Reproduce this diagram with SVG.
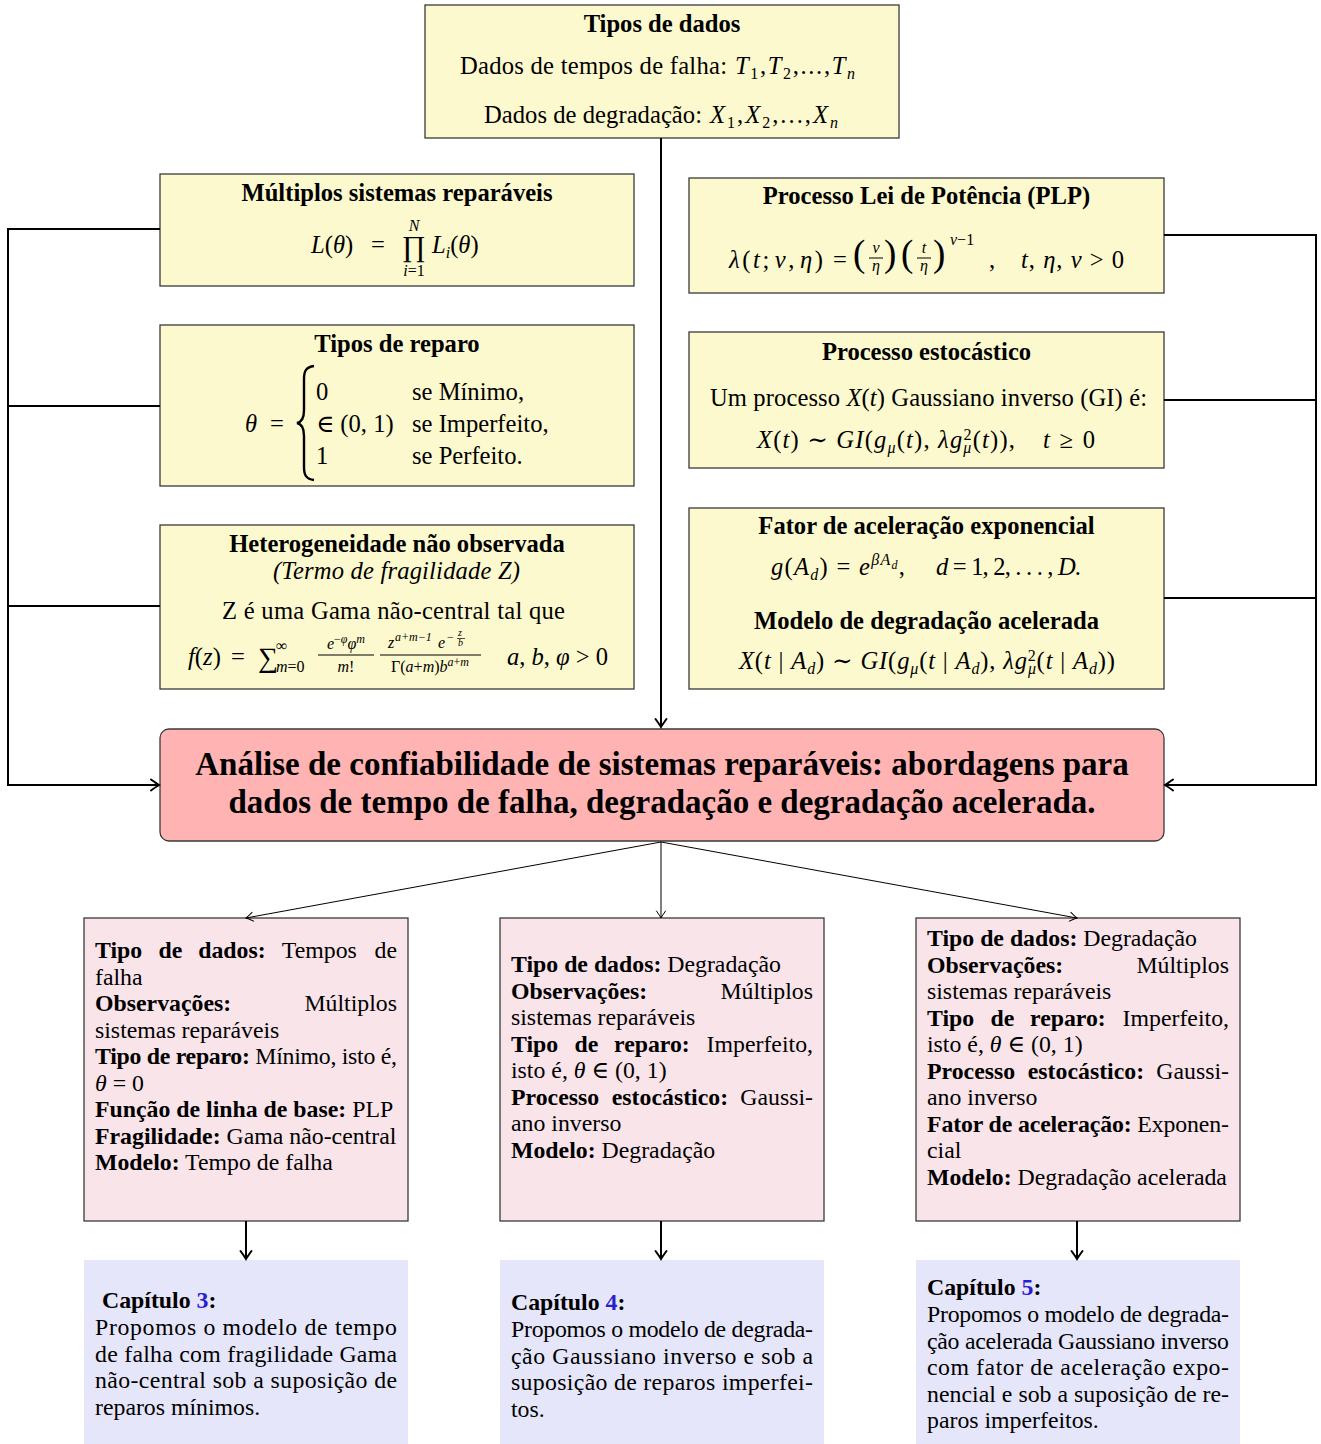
<svg xmlns="http://www.w3.org/2000/svg" width="1321" height="1444" viewBox="0 0 1321 1444">
<defs>
<style>
.tx{font-family:"Liberation Serif","DejaVu Serif",serif;font-size:24px;fill:#000}
.yb{font-size:24.6px}
.bx{font-size:23.8px}
.big{font-size:33px;font-weight:bold}
.bd{font-weight:bold}
.it{font-style:italic}
.sm{font-size:16px}
.xs{font-size:12px}
.s10{font-size:10px}
.s28{font-size:28px}
.s29{font-size:29px}
.s37{font-size:37px}
.c{text-anchor:middle}
.e{text-anchor:end}
.ylw{fill:#FDF9CE;stroke:#3a3a3a;stroke-width:1.3}
.red{fill:#FFB3B3;stroke:#3a3a3a;stroke-width:1.3}
.pnk{fill:#F9E4EA;stroke:#3a3a3a;stroke-width:1.3}
.lav{fill:#E6E6FA;stroke:none}
.thick{stroke:#000;stroke-width:2;fill:none}
.thin{stroke:#000;stroke-width:1;fill:none}
.rule{stroke:#000;stroke-width:1}
.blue{fill:#2a1fd0}
</style>
<marker id="arrT" markerUnits="userSpaceOnUse" viewBox="-10 -8 12 16" markerWidth="12" markerHeight="16" refX="0" refY="0" orient="auto" overflow="visible"><path d="M-8,-5.5 Q-2.5,-1.5 0,0 Q-2.5,1.5 -8,5.5" fill="none" stroke="#000" stroke-width="2" stroke-linecap="round"/></marker>
<marker id="arrS" markerUnits="userSpaceOnUse" viewBox="-10 -8 12 16" markerWidth="12" markerHeight="16" refX="0" refY="0" orient="auto" overflow="visible"><path d="M-7,-4.5 Q-2,-1 0,0 Q-2,1 -7,4.5" fill="none" stroke="#000" stroke-width="1" stroke-linecap="round"/></marker>
</defs>
<rect x="0" y="0" width="1321" height="1444" fill="#fff"/>

<g id="node-tipos-dados">
<rect class="ylw" x="425" y="5" width="474" height="133"/>
<text class="tx yb bd c" x="662" y="32">Tipos de dados</text>
<text class="tx yb" x="460" y="74" textLength="267" lengthAdjust="spacing">Dados de tempos de falha:</text>
<text class="tx yb" x="735" y="74" textLength="120" lengthAdjust="spacing"><tspan class="it">T</tspan><tspan class="sm" dy="5">1</tspan><tspan dy="-5">,</tspan><tspan class="it">T</tspan><tspan class="sm" dy="5">2</tspan><tspan dy="-5">,...,</tspan><tspan class="it">T</tspan><tspan class="sm it" dy="5">n</tspan></text>
<text class="tx yb" x="484" y="123" textLength="218" lengthAdjust="spacing">Dados de degradação:</text>
<text class="tx yb" x="710" y="123" textLength="128" lengthAdjust="spacing"><tspan class="it">X</tspan><tspan class="sm" dy="5">1</tspan><tspan dy="-5">,</tspan><tspan class="it">X</tspan><tspan class="sm" dy="5">2</tspan><tspan dy="-5">,...,</tspan><tspan class="it">X</tspan><tspan class="sm it" dy="5">n</tspan></text>
</g>

<g id="node-multiplos">
<rect class="ylw" x="160" y="174" width="474" height="112"/>
<text class="tx yb bd c" x="397" y="201">Múltiplos sistemas reparáveis</text>
<text class="tx yb" y="253"><tspan class="it" x="311">L</tspan><tspan>(</tspan><tspan class="it">θ</tspan><tspan>)</tspan></text>
<text class="tx yb" x="371" y="253">=</text>
<text class="tx s29" x="402" y="256">∏</text>
<text class="tx sm it c" x="414" y="231">N</text>
<text class="tx sm c" x="414" y="276"><tspan class="it">i</tspan>=1</text>
<text class="tx yb" y="253"><tspan class="it" x="432">L</tspan><tspan class="sm it" dy="5">i</tspan><tspan dy="-5">(</tspan><tspan class="it">θ</tspan><tspan>)</tspan></text>
</g>

<g id="node-tipos-reparo">
<rect class="ylw" x="160" y="325" width="474" height="161"/>
<text class="tx yb bd c" x="397" y="352">Tipos de reparo</text>
<text class="tx yb it" x="245" y="432">θ</text>
<text class="tx yb" x="270" y="432">=</text>
<path d="M314,366 C306,367 304,371 304,379 L304,410 C304,418 302,422 297,423 C302,424 304,428 304,436 L304,467 C304,475 306,479 314,480" fill="none" stroke="#000" stroke-width="2.4"/>
<text class="tx yb" x="316" y="400">0</text>
<text class="tx yb" x="316" y="432">∈ (0, 1)</text>
<text class="tx yb" x="316" y="464">1</text>
<text class="tx yb" x="412" y="400">se Mínimo,</text>
<text class="tx yb" x="412" y="432">se Imperfeito,</text>
<text class="tx yb" x="412" y="464">se Perfeito.</text>
</g>

<g id="node-heterogeneidade">
<rect class="ylw" x="160" y="525" width="474" height="164"/>
<text class="tx yb bd c" x="397" y="552">Heterogeneidade não observada</text>
<text class="tx yb it" x="273" y="579" textLength="247" lengthAdjust="spacing">(Termo de fragilidade Z)</text>
<text class="tx yb" x="222" y="619" textLength="343" lengthAdjust="spacing">Z é uma Gama não-central tal que</text>
<text class="tx yb" y="665"><tspan class="it" x="188">f</tspan><tspan>(</tspan><tspan class="it">z</tspan><tspan>)</tspan></text>
<text class="tx yb" x="231" y="665">=</text>
<text class="tx s28" x="258" y="667">∑</text>
<text class="tx sm" x="276" y="651">∞</text>
<text class="tx sm" x="276" y="672"><tspan class="it">m</tspan>=0</text>
<text class="tx sm c" x="346" y="649"><tspan class="it">e</tspan><tspan class="xs" dy="-6">−</tspan><tspan class="xs it">φ</tspan><tspan class="it" dy="6">φ</tspan><tspan class="xs it" dy="-6">m</tspan></text>
<line class="rule" x1="318" y1="655" x2="374" y2="655"/>
<text class="tx sm c" x="346" y="672"><tspan class="it">m</tspan>!</text>
<text class="tx sm it" x="388" y="648">z</text>
<text class="tx xs it" x="395" y="641">a+m−1</text>
<text class="tx sm it" x="438" y="648">e</text>
<text class="tx xs" x="447" y="641">−</text>
<text class="tx s10 it" x="458" y="636">z</text>
<line x1="457" y1="638.5" x2="465" y2="638.5" stroke="#000" stroke-width="0.7"/>
<text class="tx s10 it" x="458" y="646">b</text>
<line class="rule" x1="380" y1="655" x2="481" y2="655"/>
<text class="tx sm c" x="430" y="672">Γ(<tspan class="it">a</tspan>+<tspan class="it">m</tspan>)<tspan class="it">b</tspan><tspan class="xs it" dy="-6">a</tspan><tspan class="xs">+</tspan><tspan class="xs it">m</tspan></text>
<text class="tx yb" x="507" y="665" textLength="101" lengthAdjust="spacing"><tspan class="it">a</tspan>, <tspan class="it">b</tspan>, <tspan class="it">φ</tspan> &gt; 0</text>
</g>

<g id="node-plp">
<rect class="ylw" x="689" y="178" width="475" height="115"/>
<text class="tx yb bd c" x="926.5" y="204">Processo Lei de Potência (PLP)</text>
<text class="tx yb" x="729" y="268" textLength="94" lengthAdjust="spacing"><tspan class="it">λ</tspan><tspan>(</tspan><tspan class="it">t</tspan><tspan>;</tspan><tspan class="it" dx="3">ν</tspan><tspan>,</tspan><tspan class="it" dx="3">η</tspan><tspan>)</tspan></text>
<text class="tx yb" x="833" y="268">=</text>
<text class="tx s37" x="853" y="266">(</text>
<text class="tx sm it c" x="876" y="253">ν</text>
<line class="rule" x1="869" y1="258" x2="883" y2="258"/>
<text class="tx sm it c" x="876" y="271">η</text>
<text class="tx s37" x="884" y="266">)</text>
<text class="tx s37" x="901" y="266">(</text>
<text class="tx sm it c" x="924" y="253">t</text>
<line class="rule" x1="917" y1="258" x2="931" y2="258"/>
<text class="tx sm it c" x="924" y="271">η</text>
<text class="tx s37" x="933" y="266">)</text>
<text class="tx sm" x="950" y="245"><tspan class="it">ν</tspan>−1</text>
<text class="tx yb" x="989" y="268">,</text>
<text class="tx yb" x="1021" y="268" textLength="103" lengthAdjust="spacing"><tspan class="it">t</tspan>, <tspan class="it">η</tspan>, <tspan class="it">ν</tspan> &gt; 0</text>
</g>

<g id="node-estocastico">
<rect class="ylw" x="689" y="332" width="475" height="136"/>
<text class="tx yb bd c" x="926.5" y="360">Processo estocástico</text>
<text class="tx yb" x="710" y="406" textLength="437" lengthAdjust="spacing">Um processo <tspan class="it">X</tspan>(<tspan class="it">t</tspan>) Gaussiano inverso (GI) é:</text>
<text class="tx yb" x="757" y="448" textLength="258" lengthAdjust="spacing"><tspan class="it">X</tspan>(<tspan class="it">t</tspan>) ∼ <tspan class="it">GI</tspan>(<tspan class="it">g</tspan><tspan class="sm it" dy="5">μ</tspan><tspan dy="-5">(</tspan><tspan class="it">t</tspan>), <tspan class="it">λg</tspan><tspan class="sm it" dy="5">μ</tspan><tspan class="sm" dx="-9" dy="-13">2</tspan><tspan dy="8">(</tspan><tspan class="it">t</tspan>)),</text>
<text class="tx yb" x="1043" y="448" textLength="52" lengthAdjust="spacing"><tspan class="it">t</tspan> ≥ 0</text>
</g>

<g id="node-fator">
<rect class="ylw" x="689" y="508" width="475" height="181"/>
<text class="tx yb bd c" x="926.5" y="534">Fator de aceleração exponencial</text>
<text class="tx yb" x="771" y="575" textLength="134" lengthAdjust="spacing"><tspan class="it">g</tspan>(<tspan class="it">A</tspan><tspan class="sm it" dy="5">d</tspan><tspan dy="-5">) = </tspan><tspan class="it">e</tspan><tspan class="sm it" dy="-10">βA</tspan><tspan class="xs it" dy="4">d</tspan><tspan dy="6">,</tspan></text>
<text class="tx yb" x="936" y="575" textLength="145" lengthAdjust="spacing"><tspan class="it">d</tspan> = 1, 2, . . . , <tspan class="it">D</tspan>.</text>
<text class="tx yb bd c" x="926.5" y="629">Modelo de degradação acelerada</text>
<text class="tx yb" x="739" y="669" textLength="376" lengthAdjust="spacing"><tspan class="it">X</tspan>(<tspan class="it">t</tspan> | <tspan class="it">A</tspan><tspan class="sm it" dy="5">d</tspan><tspan dy="-5">) ∼ </tspan><tspan class="it">GI</tspan>(<tspan class="it">g</tspan><tspan class="sm it" dy="5">μ</tspan><tspan dy="-5">(</tspan><tspan class="it">t</tspan> | <tspan class="it">A</tspan><tspan class="sm it" dy="5">d</tspan><tspan dy="-5">), </tspan><tspan class="it">λg</tspan><tspan class="sm it" dy="5">μ</tspan><tspan class="sm" dx="-9" dy="-13">2</tspan><tspan dy="8">(</tspan><tspan class="it">t</tspan> | <tspan class="it">A</tspan><tspan class="sm it" dy="5">d</tspan><tspan dy="-5">))</tspan></text>
</g>

<g id="node-central">
<rect class="red" x="160" y="729" width="1004" height="112" rx="9" ry="9"/>
<text class="tx big c" x="662" y="775">Análise de confiabilidade de sistemas reparáveis: abordagens para</text>
<text class="tx big c" x="662" y="813">dados de tempo de falha, degradação e degradação acelerada.</text>
</g>

<g id="node-resumo-1">
<rect class="pnk" x="84" y="918" width="324" height="303"/>
<text class="tx bx" y="958"><tspan class="bd" x="95">Tipo</tspan><tspan class="bd" x="158.6">de</tspan><tspan class="bd" x="198.2">dados:</tspan><tspan x="281.8">Tempos</tspan></text>
<text class="tx bx e" x="397" y="958">de</text>
<text class="tx bx" x="95" y="984.5">falha</text>
<text class="tx bx bd" x="95" y="1011">Observações:</text>
<text class="tx bx e" x="397" y="1011">Múltiplos</text>
<text class="tx bx" x="95" y="1037.5">sistemas reparáveis</text>
<text class="tx bx" x="95" y="1064" textLength="302" lengthAdjust="spacing"><tspan class="bd">Tipo de reparo:</tspan> Mínimo, isto é,</text>
<text class="tx bx" x="95" y="1090.5"><tspan class="it">θ</tspan> = 0</text>
<text class="tx bx" x="95" y="1117"><tspan class="bd">Função de linha de base:</tspan> PLP</text>
<text class="tx bx" x="95" y="1143.5"><tspan class="bd">Fragilidade:</tspan> Gama não-central</text>
<text class="tx bx" x="95" y="1170"><tspan class="bd">Modelo:</tspan> Tempo de falha</text>
</g>

<g id="node-resumo-2">
<rect class="pnk" x="500" y="918" width="324" height="303"/>
<text class="tx bx" x="511" y="972"><tspan class="bd">Tipo de dados:</tspan> Degradação</text>
<text class="tx bx bd" x="511" y="998.5">Observações:</text>
<text class="tx bx e" x="813" y="998.5">Múltiplos</text>
<text class="tx bx" x="511" y="1025">sistemas reparáveis</text>
<text class="tx bx bd" y="1051.5"><tspan x="511">Tipo</tspan><tspan x="574.4">de</tspan><tspan x="614">reparo:</tspan></text>
<text class="tx bx e" x="813" y="1051.5">Imperfeito,</text>
<text class="tx bx" x="511" y="1078">isto é, <tspan class="it">θ</tspan> ∈ (0, 1)</text>
<text class="tx bx bd" y="1104.5"><tspan x="511">Processo</tspan><tspan x="611.8">estocástico:</tspan></text>
<text class="tx bx e" x="813" y="1104.5">Gaussi-</text>
<text class="tx bx" x="511" y="1131">ano inverso</text>
<text class="tx bx" x="511" y="1157.5"><tspan class="bd">Modelo:</tspan> Degradação</text>
</g>

<g id="node-resumo-3">
<rect class="pnk" x="916" y="918" width="324" height="303"/>
<text class="tx bx" x="927" y="946"><tspan class="bd">Tipo de dados:</tspan> Degradação</text>
<text class="tx bx bd" x="927" y="972.5">Observações:</text>
<text class="tx bx e" x="1229" y="972.5">Múltiplos</text>
<text class="tx bx" x="927" y="999">sistemas reparáveis</text>
<text class="tx bx bd" y="1025.5"><tspan x="927">Tipo</tspan><tspan x="990.4">de</tspan><tspan x="1030">reparo:</tspan></text>
<text class="tx bx e" x="1229" y="1025.5">Imperfeito,</text>
<text class="tx bx" x="927" y="1052">isto é, <tspan class="it">θ</tspan> ∈ (0, 1)</text>
<text class="tx bx bd" y="1078.5"><tspan x="927">Processo</tspan><tspan x="1027.8">estocástico:</tspan></text>
<text class="tx bx e" x="1229" y="1078.5">Gaussi-</text>
<text class="tx bx" x="927" y="1105">ano inverso</text>
<text class="tx bx" x="927" y="1131.5" textLength="302" lengthAdjust="spacing"><tspan class="bd">Fator de aceleração:</tspan> Exponen-</text>
<text class="tx bx" x="927" y="1158">cial</text>
<text class="tx bx" x="927" y="1184.5"><tspan class="bd">Modelo:</tspan> Degradação acelerada</text>
</g>

<g id="node-capitulo-3">
<rect class="lav" x="84" y="1260" width="324" height="184"/>
<text class="tx bx bd" x="102" y="1308">Capítulo <tspan class="blue">3</tspan>:</text>
<text class="tx bx" x="95" y="1335" textLength="302" lengthAdjust="spacing">Propomos o modelo de tempo</text>
<text class="tx bx" x="95" y="1361.5" textLength="302" lengthAdjust="spacing">de falha com fragilidade Gama</text>
<text class="tx bx" x="95" y="1388" textLength="302" lengthAdjust="spacing">não-central sob a suposição de</text>
<text class="tx bx" x="95" y="1414.5">reparos mínimos.</text>
</g>

<g id="node-capitulo-4">
<rect class="lav" x="500" y="1260" width="324" height="184"/>
<text class="tx bx bd" x="511" y="1310">Capítulo <tspan class="blue">4</tspan>:</text>
<text class="tx bx" x="511" y="1337" textLength="302" lengthAdjust="spacing">Propomos o modelo de degrada-</text>
<text class="tx bx" x="511" y="1363.5" textLength="302" lengthAdjust="spacing">ção Gaussiano inverso e sob a</text>
<text class="tx bx" x="511" y="1390" textLength="302" lengthAdjust="spacing">suposição de reparos imperfei-</text>
<text class="tx bx" x="511" y="1416.5">tos.</text>
</g>

<g id="node-capitulo-5">
<rect class="lav" x="916" y="1260" width="324" height="184"/>
<text class="tx bx bd" x="927" y="1295">Capítulo <tspan class="blue">5</tspan>:</text>
<text class="tx bx" x="927" y="1322" textLength="302" lengthAdjust="spacing">Propomos o modelo de degrada-</text>
<text class="tx bx" x="927" y="1348.5" textLength="302" lengthAdjust="spacing">ção acelerada Gaussiano inverso</text>
<text class="tx bx" x="927" y="1375" textLength="302" lengthAdjust="spacing">com fator de aceleração expo-</text>
<text class="tx bx" x="927" y="1401.5" textLength="302" lengthAdjust="spacing">nencial e sob a suposição de re-</text>
<text class="tx bx" x="927" y="1428">paros imperfeitos.</text>
</g>

<g id="connectors">
<path class="thick" d="M661,138 V727" marker-end="url(#arrT)"/>
<path class="thick" d="M160,229 H8 V785 H159" marker-end="url(#arrT)"/>
<path class="thick" d="M8,406 H160"/>
<path class="thick" d="M8,606 H160"/>
<path class="thick" d="M1164,235 H1316 V785 H1165" marker-end="url(#arrT)"/>
<path class="thick" d="M1316,400 H1164"/>
<path class="thick" d="M1316,598 H1164"/>
<path class="thin" d="M661,842 L246,918" marker-end="url(#arrS)"/>
<path class="thin" d="M661,842 V918" marker-end="url(#arrS)"/>
<path class="thin" d="M661,842 L1077,918" marker-end="url(#arrS)"/>
<path class="thick" d="M246,1221 V1259" marker-end="url(#arrT)"/>
<path class="thick" d="M661,1221 V1259" marker-end="url(#arrT)"/>
<path class="thick" d="M1077,1221 V1259" marker-end="url(#arrT)"/>
</g>
</svg>
